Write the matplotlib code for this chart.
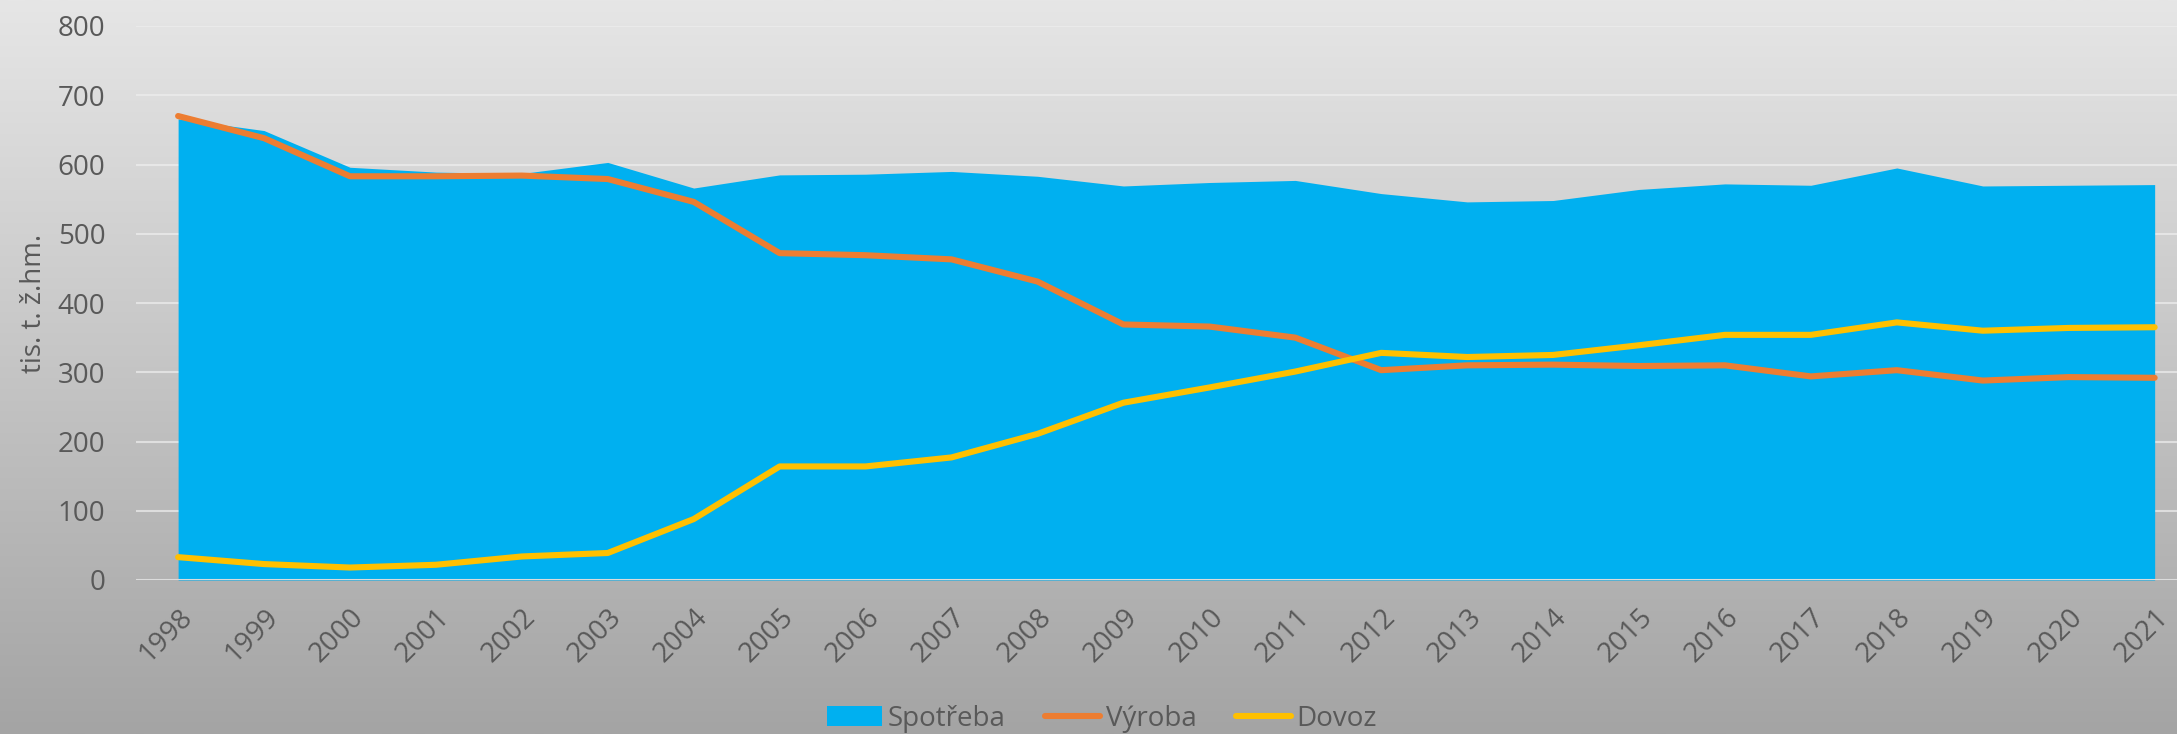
import numpy as np
import matplotlib.pyplot as plt
from matplotlib.colors import LinearSegmentedColormap
from matplotlib.patches import Patch
from matplotlib.lines import Line2D
from matplotlib.transforms import ScaledTranslation

plt.rcParams['font.family'] = ['Open Sans', 'DejaVu Sans']

years = [str(y) for y in range(1998, 2022)]

# tis. t. ž.hm.
spotreba = [666, 649, 596, 589, 587, 603, 566, 585, 586, 590, 583, 569,
            574, 577, 558, 546, 548, 564, 572, 570, 595, 569, 570, 571]
vyroba = [670, 638, 583, 583, 584, 579, 546, 472, 469, 463, 431, 369,
          366, 350, 303, 310, 311, 309, 310, 294, 303, 288, 293, 292]
dovoz = [33, 23, 18, 22, 34, 39, 88, 164, 164, 177, 211, 256,
         278, 301, 328, 322, 325, 339, 354, 354, 372, 360, 364, 365]

c_blue = '#00B0F0'
c_orange = '#ED7D31'
c_yellow = '#FFC000'
c_text = '#595959'

W, H = 2177, 734
fig = plt.figure(figsize=(W / 100, H / 100), dpi=100)

# gray gradient background
bg = fig.add_axes([0, 0, 1, 1], zorder=-10)
grad = np.linspace(0, 1, 256).reshape(-1, 1)
cmap = LinearSegmentedColormap.from_list('bg', ['#e6e6e6', '#a4a4a4'])
bg.imshow(grad, aspect='auto', cmap=cmap, extent=[0, 1, 0, 1], origin='upper')
bg.set_axis_off()

left, bottom, top = 136 / W, 1 - 580 / H, 1 - 26 / H
ax = fig.add_axes([left, bottom, 1 - left, top - bottom])
ax.patch.set_alpha(0)

x = np.arange(len(years))
ax.fill_between(x, spotreba, 0, color=c_blue, lw=0, zorder=2)
ax.plot(x, vyroba, color=c_orange, lw=4.4, solid_capstyle='round', zorder=3)
ax.plot(x, dovoz, color=c_yellow, lw=4.4, solid_capstyle='round', zorder=4)

ax.set_ylim(0, 800)
ax.set_xlim(-0.49, 23.26)
ax.set_yticks(range(0, 801, 100))
ax.set_xticks(x)
ax.set_xticklabels(years, rotation=45, ha='right', va='top', rotation_mode='anchor')
shift = ScaledTranslation(-0.09, 0, fig.dpi_scale_trans)
for lab in ax.get_xticklabels():
    lab.set_transform(lab.get_transform() + shift)
ax.grid(axis='y', color='#eeeeee', lw=1.5, alpha=0.7, zorder=0)
ax.set_axisbelow(True)
ax.axhline(0, color='#dcdcdc', lw=1.5, zorder=5)
for s in ax.spines.values():
    s.set_visible(False)
ax.tick_params(axis='both', length=0, labelsize=20, colors=c_text)
ax.tick_params(axis='y', pad=22)
ax.tick_params(axis='x', pad=17)
ax.set_ylabel('tis. t. ž.hm.', fontsize=20, color=c_text)
ax.yaxis.set_label_coords(-0.043, 0.5)

handles = [Patch(facecolor=c_blue, edgecolor='none'),
           Line2D([], [], color=c_orange, lw=4.4, solid_capstyle='round'),
           Line2D([], [], color=c_yellow, lw=4.4, solid_capstyle='round')]
fig.legend(handles, ['Spotřeba', 'Výroba', 'Dovoz'], loc='center',
           bbox_to_anchor=(1102 / W, 1 - 719 / H), ncol=3, frameon=False,
           fontsize=20, labelcolor=c_text, handlelength=2.0, handleheight=0.75,
           handletextpad=0.2, columnspacing=1.4, borderpad=0)

fig.savefig('out.png', dpi=100)
